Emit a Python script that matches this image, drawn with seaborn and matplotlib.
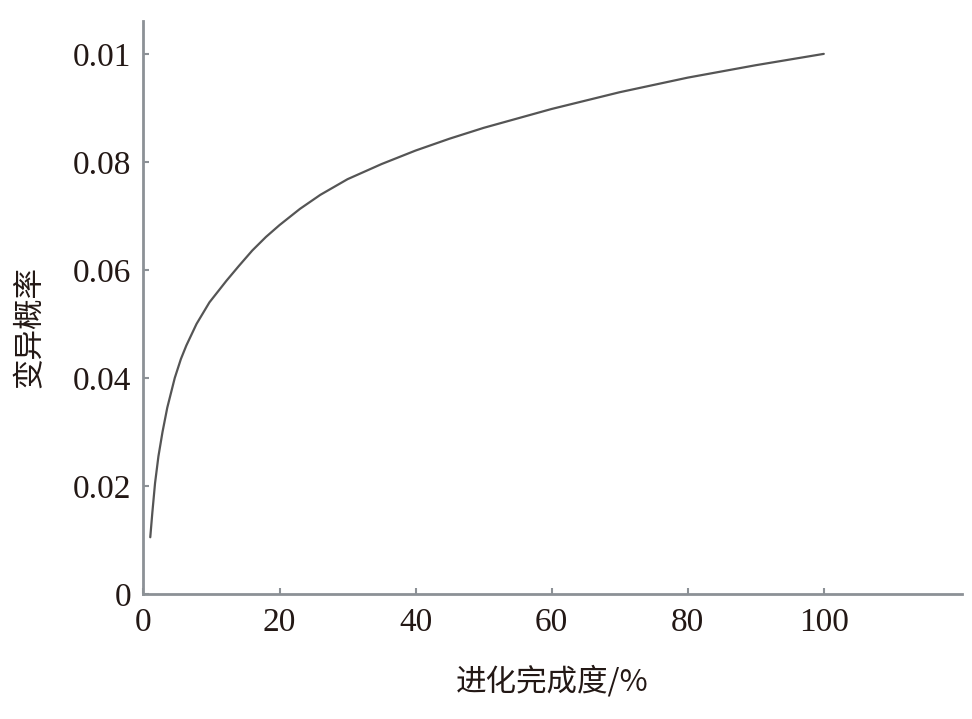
import numpy as np
import pandas as pd
import seaborn as sns
import matplotlib.pyplot as plt

# values
progress = [1, 1.3, 1.7, 2.2, 2.8, 3.5, 4.6, 5.5, 6.3, 7.8, 9.7, 12.2, 14, 16, 18, 20,
            23, 26, 30, 35, 40, 45, 50, 60, 70, 80, 90, 100]
mut_prob = [0.0105, 0.015, 0.0205, 0.0255, 0.030, 0.0345, 0.040, 0.0435, 0.046, 0.050,
            0.054, 0.058, 0.0607, 0.0636, 0.0661, 0.0683, 0.0713, 0.0739, 0.0768, 0.0796,
            0.0821, 0.0843, 0.0863, 0.0898, 0.0929, 0.0956, 0.0979, 0.100]

yticks = [0, 0.02, 0.04, 0.06, 0.08, 0.1]
ytick_labels = ['0', '0.02', '0.04', '0.06', '0.08', '0.01']
xticks = [0, 20, 40, 60, 80, 100]
xtick_labels = ['0', '20', '40', '60', '80', '100']

x_label = '进化完成度/%'
y_label = '变异概率'

df = pd.DataFrame({'progress': progress, 'prob': mut_prob})

sns.set_style('ticks')
plt.rcParams['font.family'] = ['Liberation Serif', 'Noto Sans CJK SC', 'DejaVu Sans']

spine_col = '#8c9196'
text_col = '#231815'

fig = plt.figure(figsize=(9.72, 7.19), dpi=100)
ax = fig.add_axes([0.1476, 0.1739, 0.842, 0.797])

sns.lineplot(data=df, x='progress', y='prob', ax=ax, color='#555555', linewidth=1.6)

ax.set_xlim(0, 120.3)
ax.set_ylim(0, 0.1061)
ax.set_xticks(xticks)
ax.set_xticklabels(xtick_labels)
ax.set_yticks(yticks)
ax.set_yticklabels(ytick_labels)

for side in ['top', 'right']:
    ax.spines[side].set_visible(False)
for side in ['left', 'bottom']:
    ax.spines[side].set_color(spine_col)
    ax.spines[side].set_linewidth(2)

ax.tick_params(direction='in', length=4, width=1.5, color=spine_col,
               labelsize=24, labelcolor=text_col)
ax.tick_params(axis='y', pad=9)
ax.tick_params(axis='x', pad=10)

ax.set_xlabel(x_label, fontsize=22, color=text_col, family=['Noto Sans CJK SC', 'DejaVu Sans'])
ax.set_ylabel(y_label, fontsize=22, color=text_col, family=['Noto Sans CJK SC', 'DejaVu Sans'])
ax.xaxis.set_label_coords(0.5, -0.125)
ax.yaxis.set_label_coords(-0.12, 0.466)

fig.savefig('out.png', dpi=100)
